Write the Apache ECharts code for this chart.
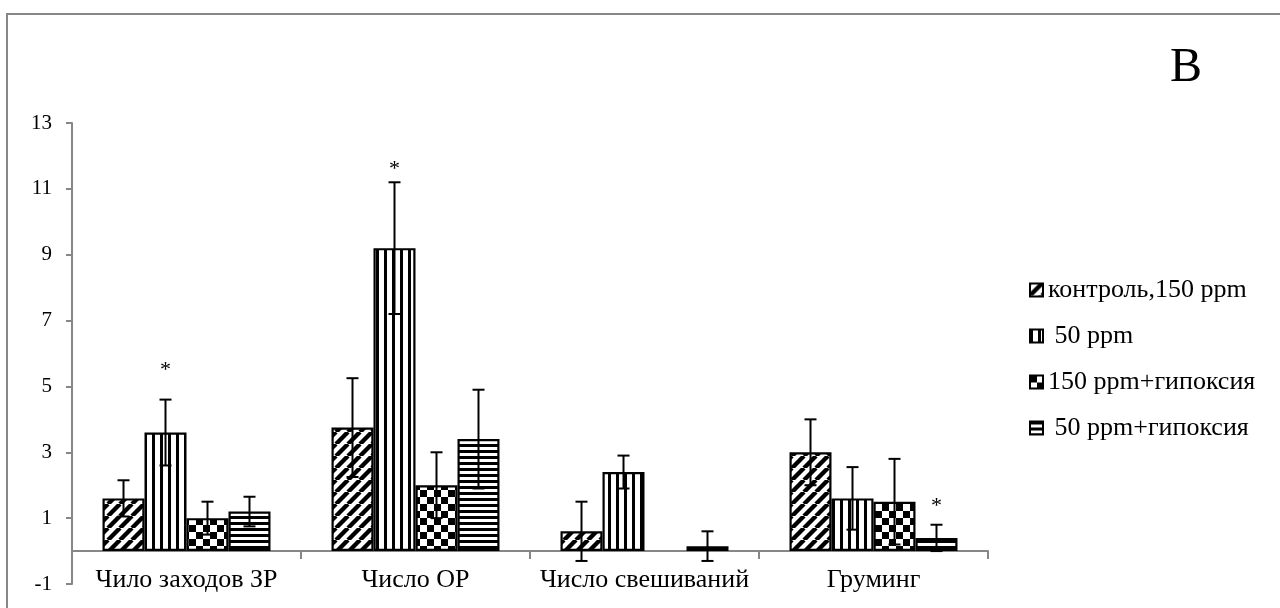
<!DOCTYPE html>
<html>
<head>
<meta charset="utf-8">
<title>Поведение</title>
<script src="https://cdn.jsdelivr.net/npm/echarts@6/dist/echarts.min.js"></script>
<style>
  html, body { margin: 0; padding: 0; background: #fff; }
  #chart { width: 1280px; height: 608px; }
</style>
</head>
<body>
<div id="chart"></div>
<script>
// Behavioural measures per group
const categories = ['Чило заходов ЗР', 'Число ОР', 'Число свешиваний', 'Груминг'];
const seriesNames = ['контроль,150 ppm', ' 50 ppm', '150 ppm+гипоксия', ' 50 ppm+гипоксия'];

// Means
const control150 = [1.6, 3.75, 0.6, 3.0];
const ppm50 = [3.6, 9.2, 2.4, 1.6];
const hypoxia150 = [1.0, 2.0, null, 1.5];
const hypoxia50 = [1.2, 3.4, 0.15, 0.4];

// Standard errors
const control150Err = [0.55, 1.5, 0.9, 1.0];
const ppm50Err = [1.0, 2.0, 0.5, 0.95];
const hypoxia150Err = [0.5, 1.0, null, 1.3];
const hypoxia50Err = [0.45, 1.5, 0.45, 0.4];

// Significant differences: [category index, series index, level of the asterisk]
const significance = [[0, 1, 5.5], [1, 1, 11.6], [3, 3, 1.35]];

const yTicks = { min: -1, max: 13, step: 2 };

const means = [control150, ppm50, hypoxia150, hypoxia50];
const errs = [control150Err, ppm50Err, hypoxia150Err, hypoxia50Err];

const FONT = 'Liberation Serif';
const AXIS_GREY = '#878787';
const BAR_FRAC = 0.1834;

// Monochrome fill patterns drawn on small tiles
function makeTile(w, h, draw) {
  const c = document.createElement('canvas');
  c.width = w; c.height = h;
  const ctx = c.getContext('2d');
  ctx.fillStyle = '#fff';
  ctx.fillRect(0, 0, w, h);
  ctx.fillStyle = '#000';
  ctx.strokeStyle = '#000';
  draw(ctx, w, h);
  return { image: c, repeat: 'repeat' };
}
const patterns = [
  makeTile(12, 12, (ctx, w, h) => {
    ctx.lineWidth = 4.4;
    for (const o of [-12, 0, 12]) {
      ctx.beginPath();
      ctx.moveTo(o, h);
      ctx.lineTo(o + w, 0);
      ctx.stroke();
    }
  }),
  makeTile(8, 8, (ctx) => { ctx.fillRect(0, 0, 3, 8); }),
  makeTile(14, 14, (ctx) => { ctx.fillRect(0, 0, 7, 7); ctx.fillRect(7, 7, 7, 7); }),
  makeTile(6, 6, (ctx) => { ctx.fillRect(0, 0, 6, 3); })
];

const barSeries = means.map((vals, i) => ({
  name: seriesNames[i],
  type: 'bar',
  data: vals,
  barWidth: (BAR_FRAC * 100) + '%',
  barGap: '0%',
  z: 2,
  itemStyle: { color: patterns[i], borderColor: '#000', borderWidth: 2.2 }
}));

const errData = [];
means.forEach((vals, i) => {
  vals.forEach((v, j) => {
    if (v != null && errs[i][j] != null) errData.push([j, i, v, errs[i][j]]);
  });
});

function barCenterX(api, cat, s) {
  const band = api.size([1, 0])[0];
  return api.coord([cat, 0])[0] + (s - 1.5) * band * BAR_FRAC;
}

const errorSeries = {
  type: 'custom',
  name: 'err',
  z: 5,
  silent: true,
  encode: { x: 0, y: 2 },
  data: errData,
  renderItem(params, api) {
    const cat = api.value(0), s = api.value(1), v = api.value(2), e = api.value(3);
    const x = barCenterX(api, cat, s);
    const yTop = api.coord([cat, v + e])[1];
    const yBot = api.coord([cat, v - e])[1];
    const half = 6;
    const style = { stroke: '#000', lineWidth: 2 };
    return {
      type: 'group',
      children: [
        { type: 'line', shape: { x1: x, y1: yTop, x2: x, y2: yBot }, style },
        { type: 'line', shape: { x1: x - half, y1: yTop, x2: x + half, y2: yTop }, style },
        { type: 'line', shape: { x1: x - half, y1: yBot, x2: x + half, y2: yBot }, style }
      ]
    };
  }
};

const starSeries = {
  type: 'custom',
  name: 'stars',
  z: 6,
  silent: true,
  encode: { x: 0, y: 2 },
  data: significance,
  renderItem(params, api) {
    const cat = api.value(0), s = api.value(1), lvl = api.value(2);
    return {
      type: 'text',
      style: {
        x: barCenterX(api, cat, s),
        y: api.coord([cat, lvl])[1],
        text: '*',
        fill: '#000',
        font: '22px "' + FONT + '"',
        align: 'center',
        verticalAlign: 'middle'
      }
    };
  }
};

const chart = echarts.init(document.getElementById('chart'), null, { renderer: 'canvas' });
chart.setOption({
  animation: false,
  backgroundColor: '#fff',
  textStyle: { fontFamily: FONT, color: '#000' },
  graphic: [
    {
      type: 'rect',
      shape: { x: 7, y: 14, width: 1400, height: 800 },
      style: { fill: 'none', stroke: AXIS_GREY, lineWidth: 2 },
      silent: true
    },
    {
      type: 'text',
      left: 1170,
      top: 44,
      style: { text: 'B', font: '48px "' + FONT + '"', fill: '#000' }
    }
  ],
  grid: { left: 72, right: 292, top: 123, bottom: 24, containLabel: false, outerBoundsMode: 'none' },
  legend: {
    data: seriesNames,
    orient: 'vertical',
    left: 1029,
    top: 277,
    padding: 0,
    itemWidth: 13,
    itemHeight: 13,
    itemGap: 20,
    icon: 'rect',
    selectedMode: false,
    textStyle: { fontFamily: FONT, fontSize: 26, color: '#000', lineHeight: 24, padding: [0, 0, 0, 0] }
  },
  xAxis: {
    type: 'category',
    data: categories,
    axisLine: { onZero: true, lineStyle: { color: AXIS_GREY, width: 2 } },
    axisTick: { show: true, length: 8, inside: false, lineStyle: { color: AXIS_GREY, width: 2 } },
    axisLabel: { fontFamily: FONT, fontSize: 26, color: '#000', margin: -17, interval: 0 },
    splitLine: { show: false }
  },
  yAxis: {
    type: 'value',
    min: yTicks.min,
    max: yTicks.max,
    interval: yTicks.step,
    axisLine: { show: true, lineStyle: { color: AXIS_GREY, width: 2 } },
    axisTick: { show: true, length: 6, lineStyle: { color: AXIS_GREY, width: 2 } },
    axisLabel: { fontFamily: FONT, fontSize: 21, color: '#000', margin: 20 },
    splitLine: { show: false }
  },
  series: [...barSeries, errorSeries, starSeries]
});
</script>
</body>
</html>
